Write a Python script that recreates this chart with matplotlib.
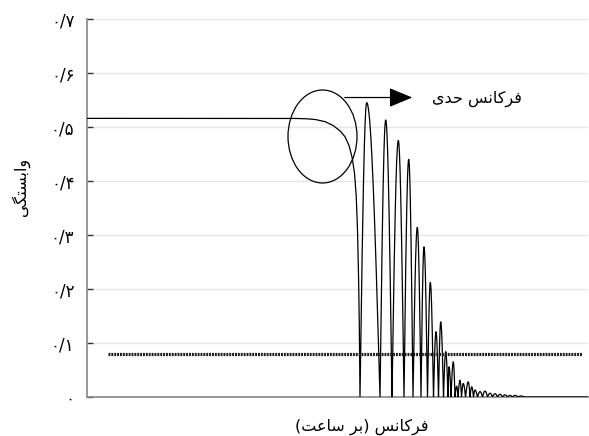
import numpy as np
import matplotlib
matplotlib.use("Agg")
import matplotlib.pyplot as plt
from matplotlib.patches import Ellipse, FancyArrowPatch

plt.rcParams['font.family'] = ['DejaVu Sans']

# ---------------- data ----------------
y_ticks = [0.0, 0.1, 0.2, 0.3, 0.4, 0.5, 0.6, 0.7]
y_tick_labels = ["۰", "۰/۱", "۰/۲", "۰/۳", "۰/۴", "۰/۵", "۰/۶", "۰/۷"]

# plateau and roll-off before the cut-off frequency
rolloff_x = [0, 203, 218, 228, 238, 246, 253, 258, 262, 265, 267.5, 269.3,
             270.5, 271.7, 272.5, 273]
rolloff_y = [0.516, 0.516, 0.5155, 0.514, 0.510, 0.503, 0.493, 0.482, 0.466,
             0.445, 0.415, 0.37, 0.31, 0.21, 0.11, 0.0]

# oscillating lobes after the cut-off frequency
lobe_edges = [273, 293, 305, 317, 326, 334, 340.5, 346.5, 351.5, 356.5, 361, 364,
              368, 371, 374.5, 378.5, 383, 386.5, 390.5, 395.5, 400.5, 405.5,
              410.5, 415.5, 420.5, 425.5, 431, 437]
lobe_peak_x = [279.7, 298.7, 311.3, 321.7, 330.3, 337, 343.3, 349, 353.7, 358.7,
               362, 366.3, 369.7, 373, 376.3, 381.3, 384.7, 388, 393, 398, 403,
               408, 413, 418, 423, 428, 434]
lobe_peak_y = [0.545, 0.513, 0.475, 0.44, 0.314, 0.278, 0.212, 0.121, 0.139, 0.084,
               0.056, 0.065, 0.02, 0.031, 0.025, 0.028, 0.019, 0.013, 0.010, 0.011,
               0.007, 0.006, 0.005, 0.004, 0.003, 0.003, 0.002]
x_end = 501

threshold_y = 0.079
threshold_x = [20.7, 495]

xlabel_text = "فرکانس (بر ساعت)"
ylabel_text = "وابستگی"
annot_text = "فرکانس حدی"

# -------------- simple Persian shaping --------------
FORMS = {
    'ف': ('\uFED1', '\uFED2', '\uFED3', '\uFED4'),
    'ر': ('\uFEAD', '\uFEAE', '\uFEAD', '\uFEAE'),
    'ک': ('\uFB8E', '\uFB8F', '\uFB90', '\uFB91'),
    'ا': ('\uFE8D', '\uFE8E', '\uFE8D', '\uFE8E'),
    'ن': ('\uFEE5', '\uFEE6', '\uFEE7', '\uFEE8'),
    'س': ('\uFEB1', '\uFEB2', '\uFEB3', '\uFEB4'),
    'ح': ('\uFEA1', '\uFEA2', '\uFEA3', '\uFEA4'),
    'د': ('\uFEA9', '\uFEAA', '\uFEA9', '\uFEAA'),
    'ی': ('\uFBFC', '\uFBFD', '\uFBFE', '\uFBFF'),
    'ب': ('\uFE8F', '\uFE90', '\uFE91', '\uFE92'),
    'ع': ('\uFEC9', '\uFECA', '\uFECB', '\uFECC'),
    'ت': ('\uFE95', '\uFE96', '\uFE97', '\uFE98'),
    'و': ('\uFEED', '\uFEEE', '\uFEED', '\uFEEE'),
    'گ': ('\uFB92', '\uFB93', '\uFB94', '\uFB95'),
}
RIGHT_ONLY = set('اردو')


def shape(text):
    out = []
    for i, c in enumerate(text):
        if c not in FORMS:
            out.append(c)
            continue
        prev = text[i - 1] if i > 0 else None
        nxt = text[i + 1] if i + 1 < len(text) else None
        jp = prev in FORMS and prev not in RIGHT_ONLY
        jn = nxt in FORMS and c not in RIGHT_ONLY
        f = FORMS[c]
        if jp and jn:
            out.append(f[3])
        elif jp:
            out.append(f[1])
        elif jn:
            out.append(f[2])
        else:
            out.append(f[0])
    s = ''.join(out)[::-1]
    mirror = {'(': ')', ')': '('}
    return ''.join(mirror.get(ch, ch) for ch in s)


# -------------- build curve --------------
cx = [np.linspace(rolloff_x[0], rolloff_x[-1], 800)]
cy = [np.interp(cx[0], rolloff_x, rolloff_y)]
for i in range(len(lobe_peak_x)):
    a, b = lobe_edges[i], lobe_edges[i + 1]
    p, P = lobe_peak_x[i], lobe_peak_y[i]
    t1 = np.linspace(a, p, 40)
    t2 = np.linspace(p, b, 40)
    cx += [t1, t2]
    cy += [P * np.sin(np.pi / 2 * (t1 - a) / (p - a)),
           P * np.cos(np.pi / 2 * (t2 - p) / (b - p))]
cx.append(np.array([lobe_edges[-1], x_end]))
cy.append(np.array([0.0, 0.0]))
curve_x = np.concatenate(cx)
curve_y = np.concatenate(cy)

# -------------- figure --------------
W, H = 589, 436
fig = plt.figure(figsize=(W / 100, H / 100), dpi=100)
ax = fig.add_axes([87 / W, (H - 397) / H, 501 / W, 378 / H])

ax.set_xlim(0, x_end)
ax.set_ylim(0, 0.7)

ax.set_yticks(y_ticks)
ax.set_yticklabels(y_tick_labels, fontsize=12)
ax.set_xticks([])
ax.tick_params(axis='y', direction='in', length=4, width=1, color='#333333', pad=9)

for s in ['top', 'right']:
    ax.spines[s].set_visible(False)
for s in ['left', 'bottom']:
    ax.spines[s].set_color('#888888')
    ax.spines[s].set_linewidth(1.2)

ax.yaxis.grid(True, color='#e6e6e6', linewidth=1)
ax.set_axisbelow(True)

ax.plot(curve_x, curve_y, color='black', lw=0.9, zorder=3)

ax.plot(threshold_x, [threshold_y, threshold_y], color='#1a1a1a', lw=2.3,
        linestyle=(0, (0.6, 0.3)), zorder=3)

ell = Ellipse((235.5, 0.4824), width=69, height=93 / 540, fill=False,
              edgecolor='black', lw=0.9, zorder=4)
ax.add_patch(ell)

arr = FancyArrowPatch((255, 0.5546), (328, 0.5546),
                      arrowstyle='-|>,head_length=1.2,head_width=0.5',
                      mutation_scale=12, color='black', lw=0.9, zorder=4)
ax.add_patch(arr)

ax.text((477 - 87) / 501, (397 - 99) / 378, shape(annot_text), ha='center',
        va='center', fontsize=11.5, transform=ax.transAxes)

fig.text(362 / W, 1 - 427 / H, shape(xlabel_text), ha='center', va='center', fontsize=11.5)
fig.text(21 / W, 1 - 187 / H, shape(ylabel_text), ha='center', va='center',
         fontsize=11.5, rotation=90)

fig.savefig('out.png', dpi=100)
